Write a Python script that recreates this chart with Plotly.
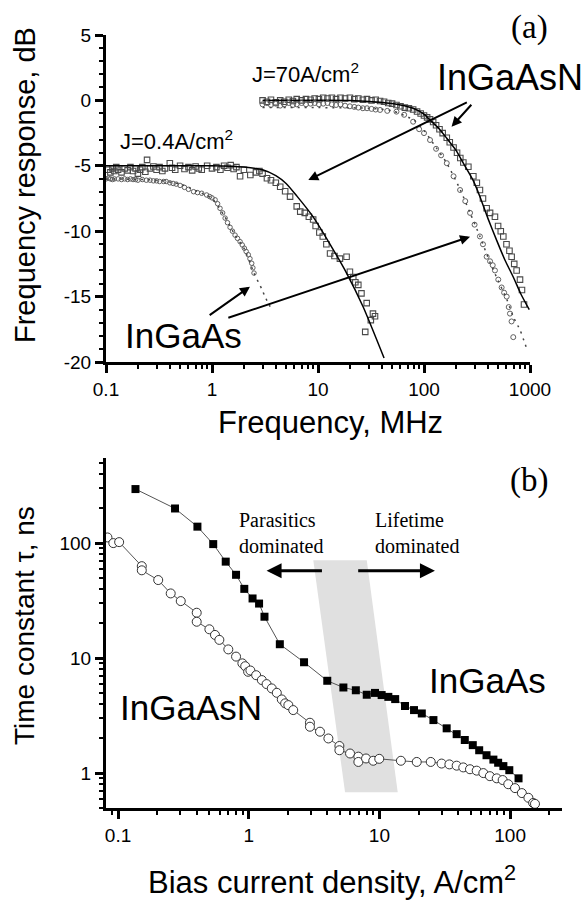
import math
import plotly.graph_objects as go

# ---------------- Panel (a) data: frequency response ----------------
# InGaAsN, J=0.4 A/cm2 (open squares)
f_n04 = [0.105,0.11,0.115,0.12,0.125,0.13,0.14,0.15,0.16,0.17,0.18,0.19,
         0.2,0.21,0.22,0.235,0.244,0.26,0.28,0.3,0.32,0.34,0.36,0.4,0.42,0.45,
         0.5,0.55,0.6,0.65,0.7,0.75,0.8,0.9,1.0,1.1,1.2,1.3,1.4,1.5,1.6,1.7,
         1.84,2.0,2.3,2.6,2.8,3.0,3.3,3.6,4.0,4.4,4.9,5.45,6.3,6.8,7.5,8.2,9.0,
         9.5,10.3,11.1,12.0,13.0,14.3,16.1,18.6,20.0,21.5,22.5,24.0,25.7,27.9,
         28.8,31.5,33.0,34.5]
db_n04 = [-5.3,-5.5,-5.2,-5.4,-5.1,-5.3,-5.5,-5.2,-5.35,-5.1,-5.4,-5.2,
          -5.6,-5.3,-5.1,-5.45,-4.55,-5.2,-5.05,-5.3,-5.1,-5.4,-5.2,-4.8,-5.15,-5.3,
          -5.0,-5.25,-5.1,-5.35,-5.05,-5.2,-5.3,-5.0,-5.2,-5.1,-5.3,-5.0,-5.15,-4.95,-5.25,-5.1,
          -5.8,-5.3,-5.7,-5.5,-5.4,-5.6,-5.95,-6.1,-6.3,-6.6,-6.95,-7.36,-8.1,-8.5,-8.6,-8.9,-9.1,
          -9.6,-10.1,-10.4,-11.0,-11.7,-11.9,-12.1,-11.95,-13.1,-13.5,-13.9,-14.1,-14.75,-17.7,
          -15.5,-16.8,-16.3,-16.5]
# InGaAsN, J=0.4 fit (solid)
f_n04_fit = [0.1,1,2,3,4,5,6.3,9,13,18.6,26.7,42]
db_n04_fit = [-5.0,-5.0,-5.1,-5.3,-5.75,-6.35,-7.3,-8.9,-11.0,-13.2,-15.8,-19.7]

# InGaAs, J=0.4 A/cm2 (open circles)
f_a04 = [0.1,0.105,0.11,0.115,0.12,0.13,0.14,0.15,0.16,0.17,0.18,0.19,
         0.2,0.22,0.24,0.26,0.28,0.3,0.32,0.35,0.37,0.4,0.43,0.46,0.5,0.55,0.6,
         0.67,0.73,0.8,0.89,0.95,1.0,1.07,1.13,1.19,1.26,1.33,1.4,1.48,1.56,1.65,
         1.74,1.84,1.93,2.02,2.1,2.2,2.28,2.37,2.43,2.49]
db_a04 = [-6.0,-5.95,-6.0,-6.05,-6.0,-6.0,-6.05,-6.0,-6.05,-6.0,-6.05,-6.05,
          -6.1,-6.05,-6.1,-6.1,-6.15,-6.15,-6.2,-6.2,-6.2,-6.3,-6.35,-6.4,-6.5,-6.65,-6.8,
          -6.98,-7.05,-7.1,-7.23,-7.35,-7.45,-7.6,-7.9,-8.25,-8.6,-9.0,-9.35,-9.7,-10.0,-10.3,
          -10.55,-10.8,-11.05,-11.3,-11.55,-11.8,-12.1,-12.45,-12.8,-13.2]
# InGaAs, J=0.4 fit (dotted)
f_a04_fit = [0.1,0.3,0.5,0.8,1.0,1.3,1.65,2.0,2.49,2.74,2.94,3.16,3.66]
db_a04_fit = [-6.0,-6.1,-6.4,-7.1,-7.5,-8.8,-10.3,-11.3,-13.2,-13.9,-14.4,-15.0,-16.0]

# InGaAsN, J=70 A/cm2 (open squares)
f_n70 = [3.0,3.3,3.6,4.0,4.4,4.8,5.3,5.8,6.3,7.0,7.7,8.5,9.3,10.2,11.2,12.3,13.5,
         14.8,16.3,18,20,22,24,26.5,29,32,35,38.5,42,46,50,55,60,66,72,79,86,93,
         100,107,114,122,130,140,150,164,175,190,205,220,235,262,292,315,337,360,
         390,420,467,500,530,560,600,640,671,710,748,805,840,878]
db_n70 = [0.0,-0.1,0.05,-0.15,0.0,-0.1,0.05,-0.05,0.1,0.0,0.1,0.05,0.15,0.1,0.2,0.15,0.2,
          0.1,0.2,0.15,0.2,0.1,0.15,0.05,0.1,0.0,0.05,-0.05,-0.1,-0.2,-0.25,-0.35,-0.45,-0.55,-0.6,-0.7,-0.85,-1.0,
          -1.15,-1.3,-1.45,-1.65,-1.9,-2.2,-2.5,-2.85,-3.2,-3.6,-4.0,-4.4,-4.75,-5.07,-5.8,-6.3,-6.85,-7.5,
          -8.25,-8.6,-8.9,-9.6,-10.0,-10.4,-11.0,-11.5,-11.95,-12.5,-13.0,-13.7,-14.5,-15.6]
# InGaAsN, J=70 fit (solid)
f_n70_fit = [3,20,38.5,60,79,100,114,140,164,200,235,290,337,400,485,580,695,820,984]
db_n70_fit = [0.0,0.0,-0.15,-0.35,-0.6,-1.05,-1.5,-2.2,-2.9,-3.8,-4.8,-6.1,-7.36,-9.0,-10.7,-12.2,-13.5,-14.8,-16.0]

# InGaAs, J=70 A/cm2 (open circles)
f_a70 = [3.0,3.3,3.6,4.0,4.4,4.8,5.3,5.8,6.3,7.0,7.7,8.5,9.3,10.2,11.2,12.3,13.5,
         14.8,16.3,18,20,22,24,26.5,29,32,35,38.5,45,55,65,79,90,100,114,130,145,
         164,190,219,245,272,300,337,360,390,420,445,467,502,540,570,603,630,647,670,695]
db_a70 = [-0.3,-0.2,-0.35,-0.25,-0.4,-0.3,-0.2,-0.35,-0.3,-0.2,-0.3,-0.25,-0.2,-0.3,-0.25,-0.2,-0.3,
          -0.35,-0.3,-0.4,-0.45,-0.5,-0.55,-0.6,-0.6,-0.65,-0.7,-0.73,-0.8,-0.86,-1.1,-1.63,-2.2,-2.5,-3.03,-3.7,-4.2,
          -4.8,-5.8,-6.85,-7.7,-8.6,-9.5,-10.4,-11.0,-11.95,-12.3,-12.6,-13.0,-13.7,-14.3,-14.7,-15.0,-15.8,-16.3,-16.9,-18.1]
# InGaAs, J=70 fit (dotted)
f_a70_fit = [3,10,30,50,80,100,130,164,219,272,337,420,502,603,700,805,897,944]
db_a70_fit = [-0.55,-0.55,-0.6,-0.8,-1.5,-2.3,-3.6,-4.8,-6.8,-8.6,-10.4,-12.4,-13.8,-15.2,-16.6,-17.55,-18.6,-19.1]

# ---------------- Panel (b) data: time constant ----------------
j_ingaas = [0.136,0.273,0.405,0.535,0.667,0.80,0.925,1.07,1.2,1.32,1.73,2.65,3.99,5.3,6.6,
            8.0,9.25,10.4,11.7,13.2,15.7,18.4,21.1,25.9,32.7,39,45,51.8,58,66,74.5,81,88.8,98.6,116]
tau_ingaas = [295,200,139,98,69,53,40,33,29.8,22.9,13.2,9.2,6.35,5.55,5.25,
              4.8,4.98,4.77,4.6,4.4,3.83,3.53,3.3,2.89,2.45,2.18,1.94,1.75,1.58,1.43,1.31,1.23,1.15,1.06,0.90]

j_ingaasn = [0.083,0.092,0.102,0.152,0.152,0.203,0.253,0.302,0.40,0.40,0.50,0.552,0.596,0.698,0.80,
             0.894,0.94,0.99,1.03,1.14,1.26,1.37,1.50,1.64,1.79,1.90,2.01,2.19,2.94,2.94,3.51,4.07,
             4.94,4.94,5.96,6.9,6.9,7.9,8.97,9.97,14.6,19.3,24.7,29.9,34.3,39,43.8,49.3,55.5,62.4,
             70,79,87.7,96.8,109,123,138,150,155]
tau_ingaasn = [112,100,102,63,58,47.7,36.5,31.3,24.8,20.7,17.8,15.9,14.4,11.9,10.3,
               9.0,8.5,7.6,7.8,7.1,6.44,5.94,5.45,4.99,4.37,4.04,3.9,3.53,2.74,2.53,2.29,2.0,
               1.72,1.58,1.48,1.39,1.25,1.34,1.28,1.33,1.28,1.25,1.25,1.21,1.19,1.16,1.12,1.08,1.05,1.0,
               0.94,0.90,0.87,0.80,0.74,0.67,0.61,0.55,0.54]

# shaded transition band (corners)
band_j = [3.12, 8.0, 13.8, 5.46, 3.12]
band_tau = [71, 71, 0.68, 0.68, 71]

# ---------------- Axis ticks ----------------
fa_ticks = [0.1, 1, 10, 100, 1000]
fa_ticktext = ["0.1", "1", "10", "100", "1000"]
fa_minor = [m * d for d in (0.1, 1, 10, 100) for m in range(2, 10)]
dba_ticks = [-20, -15, -10, -5, 0, 5]
dba_ticktext = ["-20", "-15", "-10", "-5", "0", "5"]

jb_ticks = [0.1, 1, 10, 100]
jb_ticktext = ["0.1", "1", "10", "100"]
jb_minor = [0.09] + [m * d for d in (0.1, 1, 10) for m in range(2, 10)] + [200]
taub_ticks = [1, 10, 100]
taub_ticktext = ["1", "10", "100"]
taub_minor = [0.5, 0.6, 0.7, 0.8, 0.9] + [m * d for d in (1, 10) for m in range(2, 10)] + [200, 300, 400, 500]

# ---------------- Figure ----------------
W, H = 583, 901
ML, MR, MT, MB = 106, 21, 35, 93
PW, PH = W - ML - MR, H - MT - MB


def px(x):
    return (x - ML) / PW


def py(y):
    return 1 - (y - MT) / PH


SANS = "Liberation Sans, Arial, sans-serif"
SERIF = "Liberation Serif, Times New Roman, serif"

fig = go.Figure()

SQ_COL = "#4a4a4a"
CI_COL = "#606060"

# Panel a traces
fig.add_trace(go.Scatter(x=f_n04, y=db_n04, mode="markers", xaxis="x", yaxis="y",
                         marker=dict(symbol="square-open", size=5.5, color=SQ_COL, line=dict(width=1.1))))
fig.add_trace(go.Scatter(x=f_n04_fit, y=db_n04_fit, mode="lines", xaxis="x", yaxis="y",
                         line=dict(color="black", width=1.5, shape="spline", smoothing=0.6)))
fig.add_trace(go.Scatter(x=f_a04, y=db_a04, mode="markers", xaxis="x", yaxis="y",
                         marker=dict(symbol="circle-open", size=4.5, color=CI_COL, line=dict(width=1))))
fig.add_trace(go.Scatter(x=f_a04_fit, y=db_a04_fit, mode="lines", xaxis="x", yaxis="y",
                         line=dict(color="#444", width=1.5, dash="2px,5px", shape="spline", smoothing=0.6)))
fig.add_trace(go.Scatter(x=f_n70, y=db_n70, mode="markers", xaxis="x", yaxis="y",
                         marker=dict(symbol="square-open", size=5.5, color=SQ_COL, line=dict(width=1.1))))
fig.add_trace(go.Scatter(x=f_n70_fit, y=db_n70_fit, mode="lines", xaxis="x", yaxis="y",
                         line=dict(color="black", width=1.5, shape="spline", smoothing=0.6)))
fig.add_trace(go.Scatter(x=f_a70, y=db_a70, mode="markers", xaxis="x", yaxis="y",
                         marker=dict(symbol="circle-open", size=5, color=CI_COL, line=dict(width=1))))
fig.add_trace(go.Scatter(x=f_a70_fit, y=db_a70_fit, mode="lines", xaxis="x", yaxis="y",
                         line=dict(color="#444", width=1.5, dash="2px,5px", shape="spline", smoothing=0.6)))

# Panel b traces
fig.add_trace(go.Scatter(x=band_j, y=band_tau, mode="lines", xaxis="x2", yaxis="y2",
                         fill="toself", fillcolor="#e0e0e0", line=dict(width=0, color="#e0e0e0")))
fig.add_trace(go.Scatter(x=j_ingaas, y=tau_ingaas, mode="lines+markers", xaxis="x2", yaxis="y2",
                         line=dict(color="#555", width=1),
                         marker=dict(symbol="square", size=8, color="black")))
fig.add_trace(go.Scatter(x=j_ingaasn, y=tau_ingaasn, mode="lines+markers", xaxis="x2", yaxis="y2",
                         line=dict(color="#555", width=1),
                         marker=dict(symbol="circle", size=9, color="white", line=dict(color="#333", width=1))))

axis_common = dict(showline=True, linewidth=3, linecolor="black", mirror=False,
                   showgrid=False, zeroline=False, ticks="outside", ticklen=8, tickwidth=2.5,
                   tickcolor="black", automargin=False, tickfont=dict(family=SANS, size=19, color="black"))

fig.update_layout(
    width=W, height=H, template="none", showlegend=False,
    paper_bgcolor="white", plot_bgcolor="white",
    margin=dict(l=ML, r=MR, t=MT, b=MB),
    xaxis=dict(type="log", range=[-1, 3], domain=[0, px(530)], anchor="y",
               tickmode="array", tickvals=fa_ticks, ticktext=fa_ticktext,
               minor=dict(tickmode="array", tickvals=fa_minor, ticks="outside", ticklen=4, tickwidth=2,
                          tickcolor="black"),
               **axis_common),
    yaxis=dict(range=[-20, 5], domain=[py(362), 1], anchor="x",
               tickmode="array", tickvals=dba_ticks, ticktext=dba_ticktext,
               minor=dict(dtick=1, ticks="outside", ticklen=4, tickwidth=2, tickcolor="black"),
               **axis_common),
    xaxis2=dict(type="log", range=[-1.092, 2.397], domain=[0, 1], anchor="y2",
                tickmode="array", tickvals=jb_ticks, ticktext=jb_ticktext,
                minor=dict(tickmode="array", tickvals=jb_minor, ticks="outside", ticklen=4, tickwidth=2,
                           tickcolor="black"),
                **axis_common),
    yaxis2=dict(type="log", range=[math.log10(0.497), 2.74], domain=[0, py(458)], anchor="x2",
                tickmode="array", tickvals=taub_ticks, ticktext=taub_ticktext,
                minor=dict(tickmode="array", tickvals=taub_minor, ticks="outside", ticklen=4, tickwidth=2,
                           tickcolor="black"),
                **axis_common),
)

ann = []


def text(x, y, t, size, family=SANS, xanchor="left", angle=0, align="left"):
    ann.append(dict(x=x, y=y, xref="paper", yref="paper", text=t, showarrow=False,
                    xanchor=xanchor, yanchor="middle", textangle=angle, align=align,
                    font=dict(family=family, size=size, color="black")))


# Axis titles
text(px(25), py(185), "Frequency response, dB", 29, xanchor="center", angle=-90)
text(px(330), py(422), "Frequency, MHz", 31, xanchor="center")
text(px(24), py(626), "Time constant \u03c4, ns", 28, xanchor="center", angle=-90)
text(px(332), py(880), "Bias current density, A/cm<sup>2</sup>", 31, xanchor="center")

# Panel labels
text(px(529), py(27), "(a)", 33, family=SERIF, xanchor="center")
text(px(529), py(480), "(b)", 33, family=SERIF, xanchor="center")

# In-plot labels
text(px(435), py(78), "InGaAsN", 36)
text(px(123), py(335), "InGaAs", 35)
text(px(250), py(73), "J=70A/cm<sup>2</sup>", 22)
text(px(118), py(140), "J=0.4A/cm<sup>2</sup>", 22)
text(px(427), py(680), "InGaAs", 35)
text(px(118), py(707), "InGaAsN", 35)
text(px(237), py(533), "Parasitics<br>dominated", 20, family=SERIF)
text(px(373), py(533), "Lifetime<br>dominated", 20, family=SERIF)


def arrow(xref, yref, x0, y0, x1, y1, width, size=1.0):
    ann.append(dict(xref=xref, yref=yref, axref=xref, ayref=yref,
                    x=math.log10(x1), y=y1, ax=math.log10(x0), ay=y0, text="",
                    showarrow=True, arrowhead=2, arrowwidth=width, arrowsize=size, arrowcolor="black"))


# Panel a arrows (tail -> head), data coordinates
arrow("x", "y", 262, -0.1, 8.1, -6.09, 2)
arrow("x", "y", 288, -0.22, 182, -2.01, 2)
arrow("x", "y", 0.92, -16.5, 2.28, -14.24, 2)
arrow("x", "y", 1.38, -16.66, 272, -10.42, 2)


def arrow_log(xref, yref, x0, y0, x1, y1, width, size=1.0):
    ann.append(dict(xref=xref, yref=yref, axref=xref, ayref=yref,
                    x=math.log10(x1), y=math.log10(y1), ax=math.log10(x0), ay=math.log10(y0), text="",
                    showarrow=True, arrowhead=2, arrowwidth=width, arrowsize=size, arrowcolor="black"))


arrow_log("x2", "y2", 3.73, 57.4, 1.37, 57.4, 3, 1.0)
arrow_log("x2", "y2", 6.7, 57.4, 26.6, 57.4, 3, 1.0)

fig.update_layout(annotations=ann)

fig.write_html("out.html")
